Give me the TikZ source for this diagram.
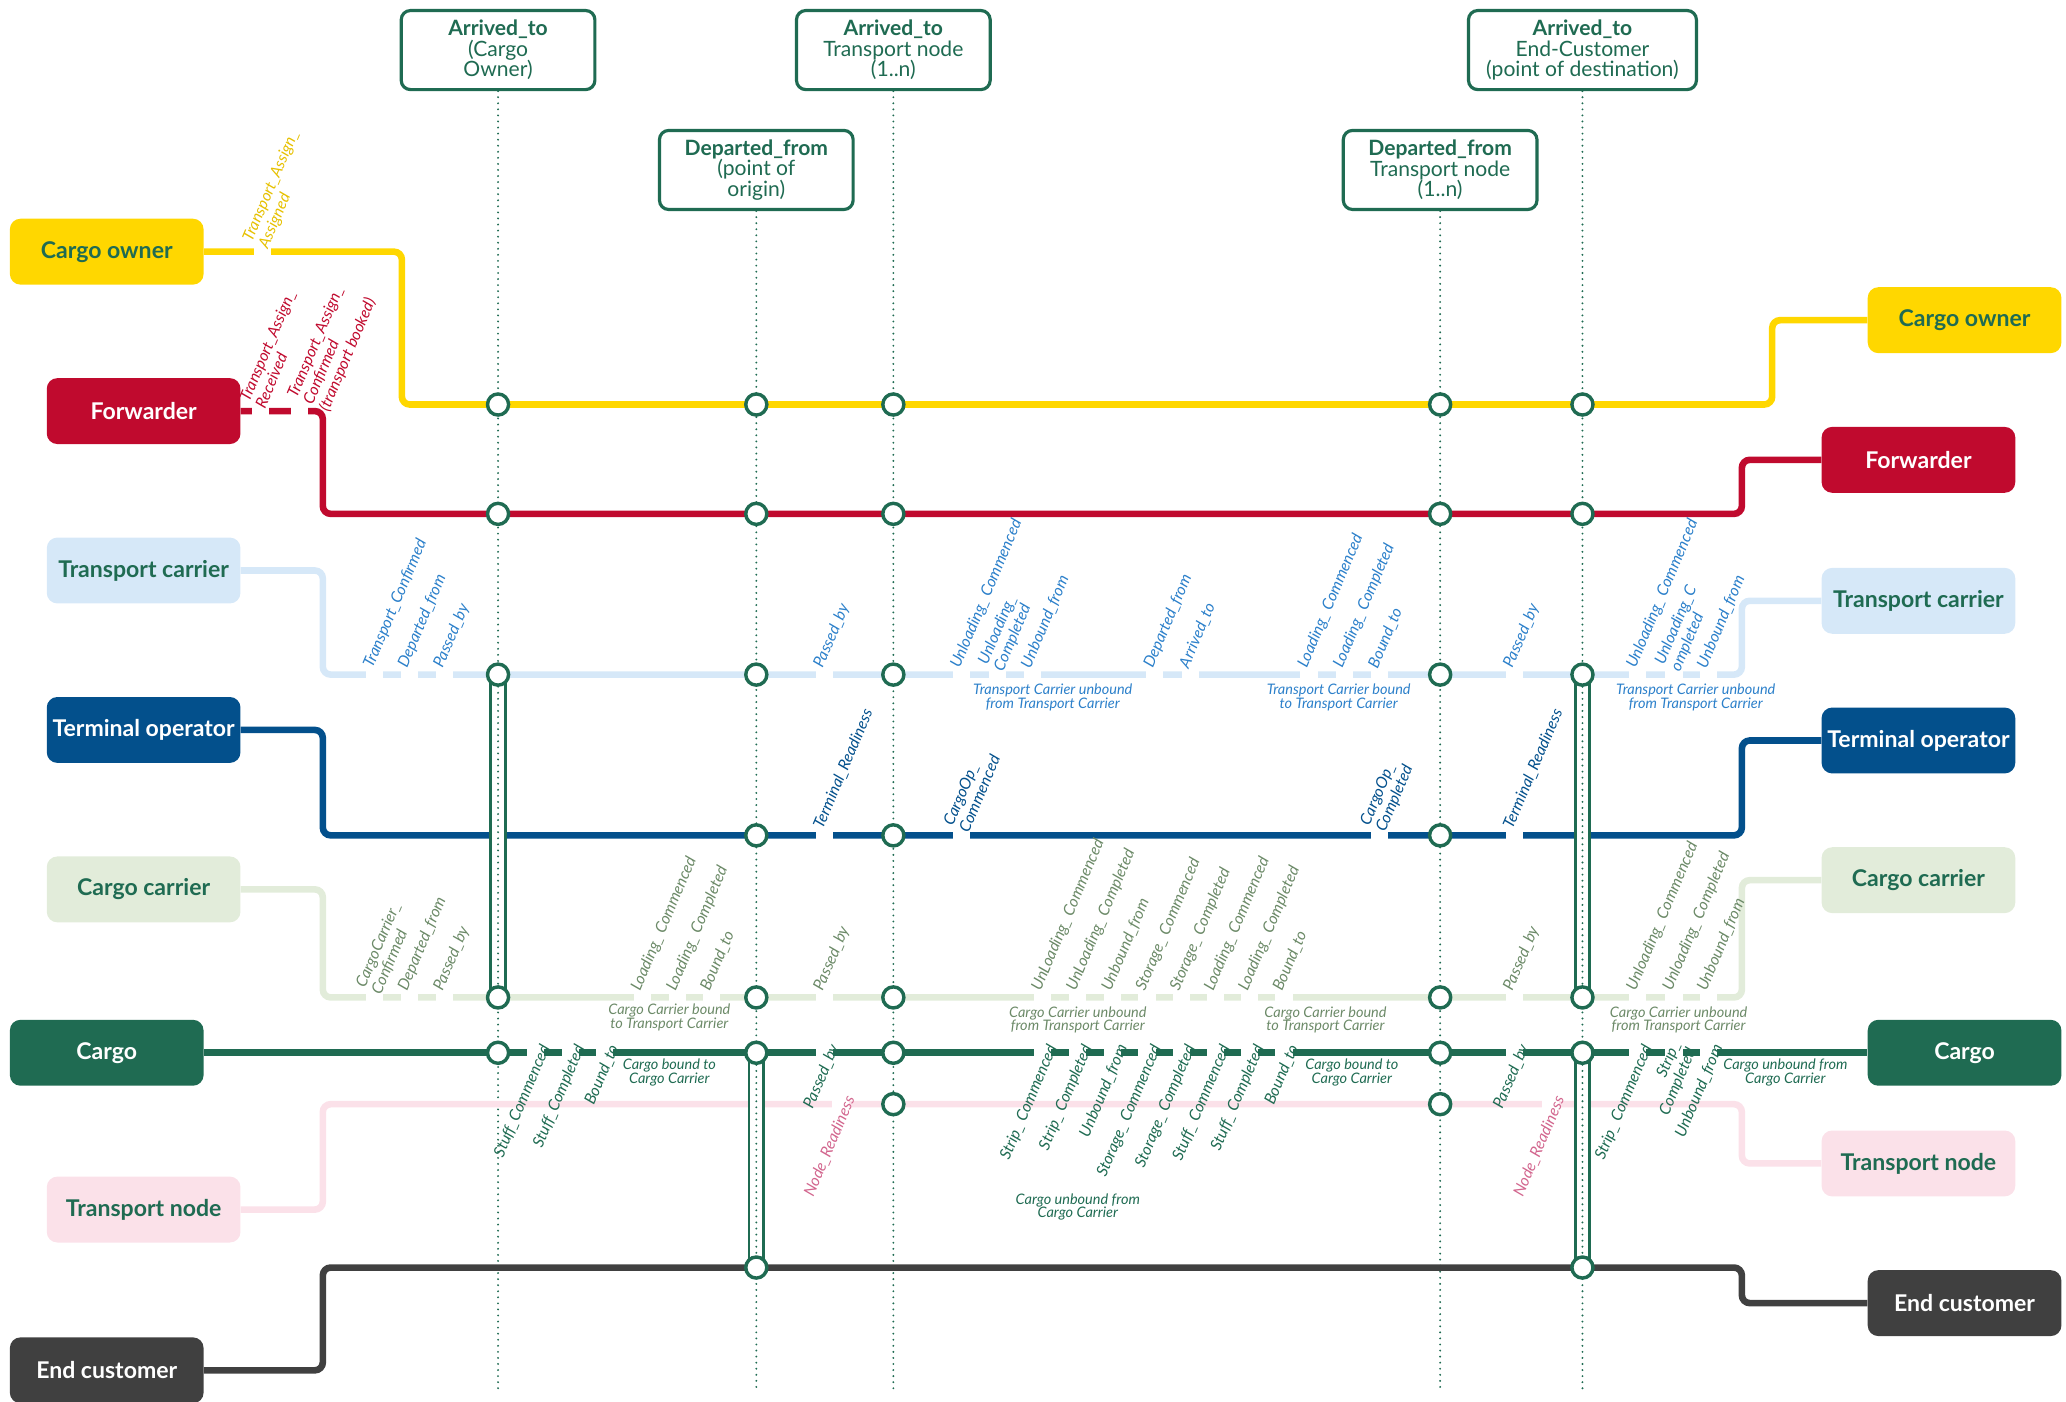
\documentclass[tikz,border=0pt]{standalone}
\usepackage{fontspec}
\setmainfont{Lato}
\usetikzlibrary{calc}
\pgfdeclarelayer{lines}
\pgfsetlayers{lines,main}
\tikzset{
  metro/.style={line width=5pt, rounded corners=6pt},
  rowbox/.style={
    rounded corners=8pt,
    minimum width=147pt,
    minimum height=50pt,
    inner sep=0pt,
    font=\fontsize{17.5}{19}\selectfont\bfseries
  },
  headbox/.style={
    draw=cgreen, line width=2.4pt, fill=white,
    rounded corners=7pt,
    minimum width=147pt, minimum height=60pt,
    inner sep=0pt, align=center, text=cgreen,
    font=\fontsize{16}{15.5}\selectfont
  },
  stop/.style={circle, draw=cgreen, fill=white, line width=2.6pt, minimum size=16pt, inner sep=0pt},
  vdot/.style={draw=cgreen, line width=1.6pt, line cap=round, dash pattern=on 0pt off 4.6pt},
  tube/.style={draw=cgreen, line width=2pt, double=white, double distance=9pt},
  evt/.style={font=\fontsize{12}{13}\selectfont\itshape, rotate=67, inner sep=0.5pt},
  caption/.style={font=\fontsize{11}{10.5}\selectfont\itshape, align=center, inner sep=0pt}
}
\definecolor{cyellow}{HTML}{FFD700}
\definecolor{cred}{HTML}{C00A2E}
\definecolor{cltblue}{HTML}{D6E8F8}
\definecolor{cnavy}{HTML}{03508C}
\definecolor{cltgreen}{HTML}{E2ECDA}
\definecolor{cgreen}{HTML}{1F6B52}
\definecolor{cpink}{HTML}{FBE1E9}
\definecolor{cgrey}{HTML}{404040}
\definecolor{tyellow}{HTML}{E6C000}
\definecolor{tblue}{HTML}{2C80CA}
\definecolor{tsage}{HTML}{6C8A68}
\definecolor{tpink}{HTML}{D2668E}
\newcounter{ev}
% event above a line: [label shift], gap x, line y, colour, text
\newcommand{\evup}[5][0]{%
  \stepcounter{ev}%
  \fill[white] ({#2-6.5},{#3-4}) rectangle ({#2+6.5},{#3+4});
  \node[evt, text=#4, anchor=west, align=left] (ev\theev) at ({#2-5+#1},{#3-5}) {#5};
}
% event below a line
\newcommand{\evdown}[5][0]{%
  \stepcounter{ev}%
  \fill[white] ({#2-6.5},{#3-4}) rectangle ({#2+6.5},{#3+4});
  \node[evt, text=#4, anchor=east, align=right] (ev\theev) at ({#2+8+#1},{#3-6}) {#5};
}

\begin{document}
\begin{tikzpicture}[x=1pt,y=-1pt]
  \useasboundingbox (0,0) rectangle (1568,1064);
  % column heads
  \node[headbox] (hA) at (378,38) {\textbf{Arrived\_to}\\(Cargo\\Owner)};
  \node[headbox] (hC) at (678,38) {\textbf{Arrived\_to}\\Transport node\\(1..n)};
  \node[headbox, minimum width=173pt] (hE) at (1201,38) {\textbf{Arrived\_to}\\End-Customer\\(point of destination)};
  \node[headbox] (hB) at (574,129) {\textbf{Departed\_from}\\(point of\\origin)};
  \node[headbox] (hD) at (1093,129) {\textbf{Departed\_from}\\Transport node\\(1..n)};
  \foreach \n/\x in {A/378,B/574,C/678,D/1093,E/1201}
    \coordinate (f\n) at (\x,1055);

  % actors, left and right
  \node[rowbox, fill=cyellow, text=cgreen] (coL) at (81,191) {Cargo owner};
  \node[rowbox, fill=cyellow, text=cgreen] (coR) at (1491,243) {Cargo owner};
  \node[rowbox, fill=cred, text=white] (fwL) at (109,312) {Forwarder};
  \node[rowbox, fill=cred, text=white] (fwR) at (1456,349) {Forwarder};
  \node[rowbox, fill=cltblue, text=cgreen] (tcL) at (109,433) {Transport carrier};
  \node[rowbox, fill=cltblue, text=cgreen] (tcR) at (1456,456) {Transport carrier};
  \node[rowbox, fill=cnavy, text=white] (toL) at (109,554) {Terminal operator};
  \node[rowbox, fill=cnavy, text=white] (toR) at (1456,562) {Terminal operator};
  \node[rowbox, fill=cltgreen, text=cgreen] (ccL) at (109,675) {Cargo carrier};
  \node[rowbox, fill=cltgreen, text=cgreen] (ccR) at (1456,668) {Cargo carrier};
  \node[rowbox, fill=cgreen, text=white] (cgL) at (81,799) {Cargo};
  \node[rowbox, fill=cgreen, text=white] (cgR) at (1491,799) {Cargo};
  \node[rowbox, fill=cpink, text=cgreen] (tnL) at (109,918) {Transport node};
  \node[rowbox, fill=cpink, text=cgreen] (tnR) at (1456,883) {Transport node};
  \node[rowbox, fill=cgrey, text=white] (ecL) at (81,1040) {End customer};
  \node[rowbox, fill=cgrey, text=white] (ecR) at (1491,989) {End customer};

  % stops
  \foreach \n/\x in {A/378,B/574,C/678,D/1093,E/1201}{
    \node[stop] (yl\n) at (\x,307) {};
    \node[stop] (rd\n) at (\x,390) {};
    \node[stop] (lb\n) at (\x,512) {};
    \node[stop] (lg\n) at (\x,757) {};
    \node[stop] (cg\n) at (\x,799) {};
  }
  \foreach \n/\x in {B/574,C/678,D/1093}
    \node[stop] (nv\n) at (\x,634) {};
  \foreach \n/\x in {C/678,D/1093}
    \node[stop] (tn\n) at (\x,838) {};
  \foreach \n/\x in {B/574,E/1201}
    \node[stop] (ec\n) at (\x,962) {};

  % captions
  \node[caption, text=tblue] (k1) at (799,529) {Transport Carrier unbound\\from Transport Carrier};
  \node[caption, text=tblue] (k2) at (1016,529) {Transport Carrier bound\\to Transport Carrier};
  \node[caption, text=tblue] (k3) at (1287,529) {Transport Carrier unbound\\from Transport Carrier};
  \node[caption, text=tsage] (k4) at (508,772) {Cargo Carrier bound\\to Transport Carrier};
  \node[caption, text=tsage] (k5) at (818,774) {Cargo Carrier unbound\\from Transport Carrier};
  \node[caption, text=tsage] (k6) at (1006,774) {Cargo Carrier bound\\to Transport Carrier};
  \node[caption, text=tsage] (k7) at (1274,774) {Cargo Carrier unbound\\from Transport Carrier};
  \node[caption, text=cgreen] (k8) at (508,814) {Cargo bound to\\Cargo Carrier};
  \node[caption, text=cgreen] (k9) at (1026,814) {Cargo bound to\\Cargo Carrier};
  \node[caption, text=cgreen] (k10) at (1355,814) {Cargo unbound from\\Cargo Carrier};
  \node[caption, text=cgreen] (k11) at (818,916) {Cargo unbound from\\Cargo Carrier};

  \begin{pgfonlayer}{lines}
    % time columns
    \foreach \n in {A,B,C,D,E}
      \draw[vdot] (h\n.south) -- (f\n);
    % lines
    \draw[metro, cyellow] (coL.east) -- (305,191) -- (305,307) -- (1345,307) -- (1345,243) -- (coR.west);
    \draw[metro, cred] (fwL.east) -- (245,312) -- (245,390) -- (1322,390) -- (1322,349) -- (fwR.west);
    \draw[metro, cltblue] (tcL.east) -- (245,433) -- (245,512) -- (1322,512) -- (1322,456) -- (tcR.west);
    \draw[metro, cnavy] (toL.east) -- (245,554) -- (245,634) -- (1322,634) -- (1322,562) -- (toR.west);
    \draw[metro, cltgreen] (ccL.east) -- (245,675) -- (245,757) -- (1322,757) -- (1322,668) -- (ccR.west);
    \draw[metro, cgreen] (cgL.east) -- (cgR.west);
    \draw[metro, cpink] (tnL.east) -- (245,918) -- (245,838) -- (1322,838) -- (1322,883) -- (tnR.west);
    \draw[metro, cgrey] (ecL.east) -- (245,1040) -- (245,962) -- (1322,962) -- (1322,989) -- (ecR.west);

    % Cargo owner / Forwarder
    \evup{199}{191}{tyellow}{Transport\_Assign\_\\Assigned}
    \evup[-2]{198}{312}{cred}{Transport\_Assign\_\\Received}
    \evup[12]{227}{312}{cred}{Transport\_Assign\_\\Confirmed\\(transport booked)}
    % Transport carrier
    \evup{284.5}{512}{tblue}{Transport\_Confirmed}
    \evup{310.5}{512}{tblue}{Departed\_from}
    \evup{337.5}{512}{tblue}{Passed\_by}
    \evup{626}{512}{tblue}{Passed\_by}
    \evup{730}{512}{tblue}{Unloading\_ Commenced}
    \evup{757}{512}{tblue}{Unloading\_\\Completed}
    \evup{783.5}{512}{tblue}{Unbound\_from}
    \evup{876.5}{512}{tblue}{Departed\_from}
    \evup{903.5}{512}{tblue}{Arrived\_to}
    \evup{993.5}{512}{tblue}{Loading\_ Commenced}
    \evup{1020.5}{512}{tblue}{Loading\_ Completed}
    \evup{1047}{512}{tblue}{Bound\_to}
    \evup{1149.5}{512}{tblue}{Passed\_by}
    \evup{1243}{512}{tblue}{Unloading\_ Commenced}
    \evup{1270.5}{512}{tblue}{Unloading\_C\\ompleted}
    \evup{1296.5}{512}{tblue}{Unbound\_from}
    % Terminal operator
    \evup{626}{634}{cnavy}{Terminal\_Readiness}
    \evup{730}{634}{cnavy}{CargoOp\_\\Commenced}
    \evup{1047}{634}{cnavy}{CargoOp\_\\Completed}
    \evup{1149.5}{634}{cnavy}{Terminal\_Readiness}
    % Cargo carrier
    \evup{284.5}{757}{tsage}{CargoCarrier\_\\Confirmed}
    \evup{310.5}{757}{tsage}{Departed\_from}
    \evup{337.5}{757}{tsage}{Passed\_by}
    \evup{487.5}{757}{tsage}{Loading\_ Commenced}
    \evup{514.5}{757}{tsage}{Loading\_ Completed}
    \evup{540}{757}{tsage}{Bound\_to}
    \evup{626}{757}{tsage}{Passed\_by}
    \evup{791.5}{757}{tsage}{UnLoading\_ Commenced}
    \evup{818}{757}{tsage}{UnLoading\_ Completed}
    \evup{844.5}{757}{tsage}{Unbound\_from}
    \evup{870.5}{757}{tsage}{Storage\_ Commenced}
    \evup{896.5}{757}{tsage}{Storage\_ Completed}
    \evup{922.5}{757}{tsage}{Loading\_ Commenced}
    \evup{948.5}{757}{tsage}{Loading\_ Completed}
    \evup{974.5}{757}{tsage}{Bound\_to}
    \evup{1149.5}{757}{tsage}{Passed\_by}
    \evup{1243}{757}{tsage}{Unloading\_ Commenced}
    \evup{1270.5}{757}{tsage}{Unloading\_ Completed}
    \evup{1296.5}{757}{tsage}{Unbound\_from}
    % Cargo
    \evdown{406.5}{799}{cgreen}{Stuff\_Commenced}
    \evdown{433}{799}{cgreen}{Stuff\_Completed}
    \evdown{458.5}{799}{cgreen}{Bound\_to}
    \evdown{626}{799}{cgreen}{Passed\_by}
    \evdown{791.5}{799}{cgreen}{Strip\_ Commenced}
    \evdown{818}{799}{cgreen}{Strip\_ Completed}
    \evdown{844.5}{799}{cgreen}{Unbound\_from}
    \evdown{870.5}{799}{cgreen}{Storage\_ Commenced}
    \evdown{896.5}{799}{cgreen}{Storage\_ Completed}
    \evdown{922.5}{799}{cgreen}{Stuff\_ Commenced}
    \evdown{948.5}{799}{cgreen}{Stuff\_ Completed}
    \evdown{974.5}{799}{cgreen}{Bound\_to}
    \evdown{1149.5}{799}{cgreen}{Passed\_by}
    \evdown{1243}{799}{cgreen}{Strip\_ Commenced}
    \evdown{1270.5}{799}{cgreen}{Strip\_\\Completed}
    \evdown{1296.5}{799}{cgreen}{Unbound\_from}
    % Transport node
    \evdown{638}{838}{tpink}{Node\_Readiness}
    \evdown{1176.5}{838}{tpink}{Node\_Readiness}

    % transfers
    \draw[tube] (lbA.center) -- (lgA.center);
    \draw[tube] (lbE.center) -- (lgE.center);
    \draw[tube] (cgB.center) -- (ecB.center);
    \draw[tube] (cgE.center) -- (ecE.center);
    \draw[vdot] (lbA.center) -- (lgA.center);
    \draw[vdot] (lbE.center) -- (lgE.center);
    \draw[vdot] (cgB.center) -- (ecB.center);
    \draw[vdot] (cgE.center) -- (ecE.center);
  \end{pgfonlayer}
\end{tikzpicture}
\end{document}
